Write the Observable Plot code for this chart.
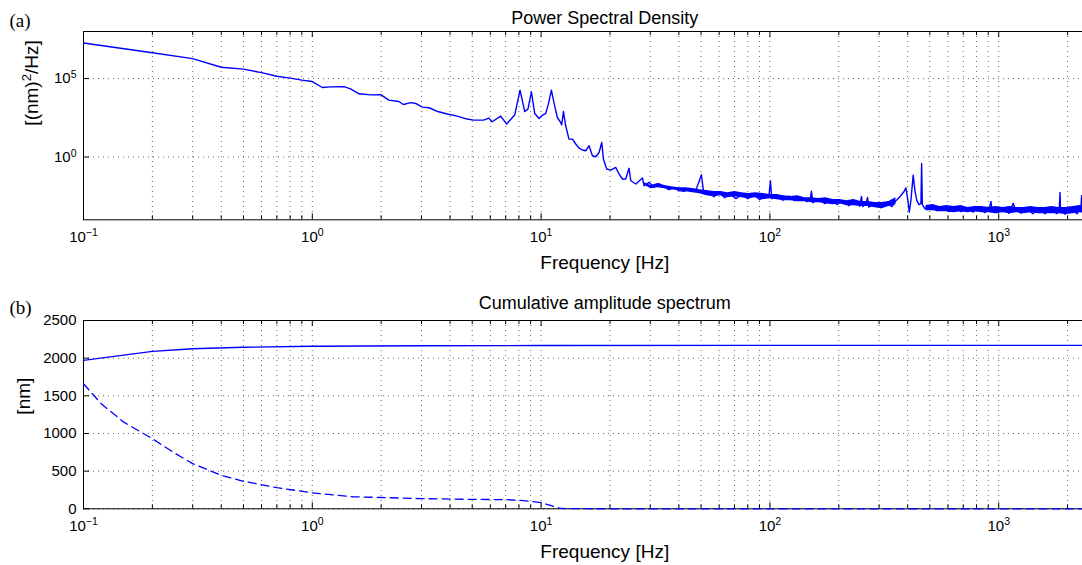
<!DOCTYPE html>
<html><head><meta charset="utf-8">
<script src="https://cdn.jsdelivr.net/npm/d3@7"></script>
<script src="https://cdn.jsdelivr.net/npm/@observablehq/plot@0.6"></script>
<style>
html,body{margin:0;padding:0;background:#fff;overflow:hidden;}
#chart{width:1082px;overflow:hidden;}
#chart svg{display:block;max-width:none !important;}
</style></head><body><div id="chart"></div>
<script>
// ---------- DATA ----------
// (a) Power spectral density trace: frequency [Hz] and log10 of PSD [(nm)^2/Hz]
const psdFreq = [0.1,0.2,0.3,0.4,0.5,0.6,0.7,0.8,0.9,1.0,1.106,1.2,1.375,1.47,1.6,1.8,1.99,2.16,2.39,2.50,2.69,2.84,3.03,3.24,3.53,3.89,4.30,4.75,5.07,5.61,5.91,6.11,6.66,7.07,7.36,7.67,8.09,8.48,8.76,9.07,9.38,9.79,10.13,10.47,10.76,11.09,11.38,11.78,12.18,12.30,12.52,12.81,13.24,13.71,14.17,14.65,15.16,15.67,16.20,16.76,17.33,17.92,18.41,18.72,19.35,20.16,21.18,21.91,22.65,23.43,24.23,24.66,25.94,27.74,28.19,29.65,31.18,32.66,34.47,36.11,38.1,39.97,42.17,44.2,47.4,50.2,51.4,54.1,56.9,59.8,63.5,66.8,71.0,75.4,80.0,85.1,90.3,95.0,98.9,100.5,101.9,107.2,113.8,121.0,128.5,136.5,145.0,150.3,151.8,154.1,163.7,173.9,184.7,196.2,208.4,221.3,235.1,247.2,251.3,254.6,265.2,267,270.5,287.5,305.6,324.7,341.5,355.5,370.1,385,392.8,401,406.4,413.2,422.9,430.3,438.8,448,457.1,460.3,463.7,475.5,505.3,536.9,570.4,606.2,643.8,683.8,726.3,771.5,819.6,870.6,914.6,924.3,933.6,981.7,1042,1108,1157,1178,1251,1328,1411,1499,1592,1691,1796,1841,1853,1862,1948,2070,2199,2287,2302,2320,2600,3000,3600];
const psdLog10 = [7.27,6.65,6.27,5.72,5.60,5.38,5.15,5.03,4.90,4.81,4.43,4.47,4.49,4.34,4.03,3.96,3.98,3.63,3.54,3.35,3.47,3.41,3.18,3.14,2.90,2.74,2.61,2.42,2.35,2.35,2.48,2.25,2.61,2.10,2.39,2.69,4.26,2.90,3.05,4.15,2.77,2.46,2.67,2.77,3.37,4.26,3.47,2.52,2.20,2.05,2.90,1.99,1.14,1.14,0.83,0.57,0.45,0.40,0.72,0.08,0.02,0.29,0.93,-0.13,-0.76,-0.83,-0.66,-1.08,-1.40,-1.40,-0.72,-1.51,-1.72,-1.34,-1.83,-1.62,-1.93,-1.70,-1.89,-2.08,-1.97,-2.14,-2.19,-2.02,-2.14,-1.13,-2.33,-2.21,-2.53,-2.27,-2.59,-2.33,-2.65,-2.40,-2.65,-2.40,-2.72,-2.46,-2.59,-1.51,-2.65,-2.43,-2.75,-2.49,-2.78,-2.56,-2.84,-2.62,-2.18,-2.91,-2.65,-2.97,-2.72,-3.03,-2.78,-3.10,-2.84,-3.13,-2.51,-3.16,-2.78,-2.57,-3.19,-2.91,-3.23,-2.97,-3.16,-2.78,-2.53,-2.21,-1.97,-2.78,-3.52,-2.78,-1.15,-2.14,-2.78,-3.03,-2.97,-0.41,-3.03,-3.29,-3.10,-3.42,-3.16,-3.48,-3.19,-3.48,-3.23,-3.51,-3.23,-3.54,-3.16,-2.83,-3.29,-3.54,-3.23,-3.58,-2.95,-3.29,-3.58,-3.29,-3.61,-3.29,-3.61,-3.32,-3.61,-3.23,-2.25,-3.29,-3.64,-3.29,-3.61,-3.29,-2.46,-3.35,-3.40,-3.38,-3.40];
// (a) Noise band envelope (log10 PSD); null marks the gap around the ~400 Hz resonance
const bandFreq = [28.1,30.2,32.4,34.7,37.2,40.0,42.9,46.0,49.4,53.0,56.8,61.0,65.4,70.2,75.3,80.8,86.7,93.1,99.9,107.2,115.0,123.4,132.4,142.1,152.5,163.6,175.6,188.4,202.2,216.9,232.8,249.8,268.1,287.6,308.7,331.2,355.4,420,480.7,515.8,553.4,593.9,637.3,683.8,733.7,787.1,844.7,906.3,972.3,1043,1119,1201,1289,1383,1484,1592,1708,1833,1967,2110,2265,2430,2799,3599];
const bandHiLog10 = [-1.63,-1.82,-1.69,-1.82,-1.89,-1.95,-1.95,-2.01,-2.08,-2.14,-2.20,-2.20,-2.27,-2.20,-2.27,-2.33,-2.27,-2.33,-2.39,-2.39,-2.46,-2.52,-2.46,-2.59,-2.59,-2.65,-2.59,-2.71,-2.71,-2.78,-2.71,-2.84,-2.84,-2.90,-2.90,-2.84,-2.59,null,-3.09,-3.03,-3.16,-3.09,-3.16,-3.09,-3.22,-3.16,-3.16,-3.22,-3.16,-3.22,-3.16,-3.22,-3.22,-3.16,-3.22,-3.22,-3.16,-3.22,-3.22,-3.16,-3.09,-3.16,-3.22,-3.22];
const bandLoLog10 = [-1.77,-2.02,-1.96,-2.02,-2.08,-2.15,-2.21,-2.27,-2.34,-2.47,-2.53,-2.47,-2.59,-2.53,-2.59,-2.66,-2.59,-2.72,-2.66,-2.72,-2.78,-2.78,-2.85,-2.85,-2.91,-2.91,-2.97,-3.04,-2.97,-3.10,-3.10,-3.16,-3.16,-3.23,-3.29,-3.16,-3.04,null,-3.42,-3.42,-3.48,-3.48,-3.55,-3.48,-3.55,-3.48,-3.55,-3.55,-3.61,-3.55,-3.61,-3.55,-3.61,-3.55,-3.61,-3.61,-3.61,-3.61,-3.67,-3.61,-3.55,-3.61,-3.61,-3.61];

// (b) Cumulative amplitude spectrum [nm]
const cumFreq = [0.1,0.15,0.2,0.3,0.5,1,3,10,100,3600];
const cumTotal = [1970,2040,2090,2125,2145,2158,2165,2168,2170,2170];
const cumDashFreq = [0.1,0.12,0.15,0.2,0.25,0.3,0.4,0.5,0.7,1,1.5,2,3,5,7,8,9,10,11,12,13,20,100,3600];
const cumDash = [1660,1390,1150,930,740,600,445,365,280,212,160,150,135,125,122,112,98,82,45,10,2,0,0,0];

// Tick labels
const majorX = [0.1, 1, 10, 100, 1000];
const majorXLabels = ["10^{-1}","10^{0}","10^{1}","10^{2}","10^{3}"];
const psdYTicks = [1, 1e5];
const psdYLabels = ["10^{0}","10^{5}"];
const cumYTicks = [0, 500, 1000, 1500, 2000, 2500];
const cumYLabels = ["0","500","1000","1500","2000","2500"];

// ---------- BUILD ----------
const FONT = "'Liberation Sans', Arial, Helvetica, sans-serif";
const SERIF = "'Liberation Serif', 'Times New Roman', serif";
const W = 1126, ML = 83, MR = 0.5;
const XMAX = 3600;
const plotW = W - ML - MR;
const minorX = majorX.flatMap(d => [2,3,4,5,6,7,8,9].map(m => d * m)).filter(d => d <= XMAX);
const allX = [...majorX, ...minorX];
const blue = "#0000ff";

const psd = psdFreq.map((f, i) => ({f, v: 10 ** psdLog10[i]}));
const band = bandFreq.map((f, i) => ({f,
  lo: bandLoLog10[i] == null ? null : 10 ** bandLoLog10[i],
  hi: bandHiLog10[i] == null ? null : 10 ** bandHiLog10[i]}));
const cumA = cumFreq.map((f, i) => ({f, v: cumTotal[i]}));
const cumB = cumDashFreq.map((f, i) => ({f, v: cumDash[i]}));

function frameMarks(o) {
  const {plotH, yTicks, yLabels, title, titleDy, panel, panelDy, ylabel, ylabelDx} = o;
  const T = {fill: "#000", lineAnchor: "middle"};
  return [
    Plot.ruleX(allX, {x: d => d, stroke: "#000", strokeOpacity: 0.6, strokeDasharray: "1,4"}),
    Plot.ruleY(yTicks, {y: d => d, stroke: "#000", strokeOpacity: 0.6, strokeDasharray: "1,4"}),
    Plot.tickX(minorX, {x: d => d, insetBottom: plotH - 4, stroke: "#000"}),
    Plot.tickX(minorX, {x: d => d, insetTop: plotH - 4, stroke: "#000"}),
    Plot.tickX(majorX, {x: d => d, insetBottom: plotH - 6, stroke: "#000"}),
    Plot.tickX(majorX, {x: d => d, insetTop: plotH - 6, stroke: "#000"}),
    Plot.tickY(yTicks, {y: d => d, insetRight: plotW - 6, stroke: "#000"}),
    Plot.tickY(yTicks, {y: d => d, insetLeft: plotW - 6, stroke: "#000"}),
    Plot.frame({stroke: "#000", strokeWidth: 1}),
    Plot.text(majorX, {...T, x: d => d, frameAnchor: "bottom", dy: 17, text: (d, i) => majorXLabels[i], fontSize: 15}),
    Plot.text(yTicks, {...T, y: d => d, frameAnchor: "left", dx: -7, textAnchor: "end", text: (d, i) => yLabels[i], fontSize: 15}),
    Plot.text(["Frequency [Hz]"], {...T, frameAnchor: "bottom", dy: 43, fontSize: 19}),
    Plot.text([title], {...T, frameAnchor: "top", dy: titleDy, fontSize: 18}),
    Plot.text([panel], {...T, frameAnchor: "top-left", dx: -74, dy: panelDy, textAnchor: "start", fontSize: 19, fontFamily: SERIF}),
    Plot.text([ylabel], {...T, frameAnchor: "left", dx: ylabelDx, rotate: -90, fontSize: 19})
  ];
}

const hA = 285, mtA = 31, mbA = 65.7;
const plotA = Plot.plot({
  width: W, height: hA, marginLeft: ML, marginRight: MR, marginTop: mtA, marginBottom: mbA,
  style: {fontFamily: FONT, background: "#fff", overflow: "visible", maxWidth: "none"},
  x: {type: "log", domain: [0.1, XMAX], axis: null},
  y: {type: "log", domain: [1e-4, 1e8], axis: null},
  marks: [
    ...frameMarks({plotH: hA - mtA - mbA, yTicks: psdYTicks, yLabels: psdYLabels,
      title: "Power Spectral Density", titleDy: -13.5, panel: "(a)", panelDy: -11,
      ylabel: "[(nm)^{2}/Hz]", ylabelDx: -52}),
    Plot.areaY(band, {x: "f", y1: "lo", y2: "hi", fill: blue, clip: true}),
    Plot.line(psd, {x: "f", y: "v", stroke: blue, strokeWidth: 1.4, clip: true})
  ]
});

const hB = 280, mtB = 35, mbB = 56.7;
const plotB = Plot.plot({
  width: W, height: hB, marginLeft: ML, marginRight: MR, marginTop: mtB, marginBottom: mbB,
  style: {fontFamily: FONT, background: "#fff", overflow: "visible", maxWidth: "none"},
  x: {type: "log", domain: [0.1, XMAX], axis: null},
  y: {type: "linear", domain: [0, 2500], axis: null},
  marks: [
    ...frameMarks({plotH: hB - mtB - mbB, yTicks: cumYTicks, yLabels: cumYLabels,
      title: "Cumulative amplitude spectrum", titleDy: -17, panel: "(b)", panelDy: -13,
      ylabel: "[nm]", ylabelDx: -60}),
    Plot.line(cumA, {x: "f", y: "v", stroke: blue, strokeWidth: 1.3}),
    Plot.line(cumB, {x: "f", y: "v", stroke: blue, strokeWidth: 1.3, strokeDasharray: "8,5"})
  ]
});

// Render "a^{b}c" label strings with real superscript tspans
function supify(svg) {
  d3.select(svg).selectAll("text").each(function () {
    const t = this.textContent;
    const m = t.match(/^(.*?)\^\{(.*?)\}(.*)$/);
    if (!m) return;
    const el = d3.select(this);
    el.text(null);
    el.append("tspan").text(m[1]);
    el.append("tspan").attr("dy", "-0.5em").attr("font-size", "70%").text(m[2].replace("-", "\u2212"));
    if (m[3]) el.append("tspan").attr("dy", "0.35em").text(m[3]);
  });
}
supify(plotA); supify(plotB);
document.getElementById("chart").append(plotA, plotB);
</script></body></html>
